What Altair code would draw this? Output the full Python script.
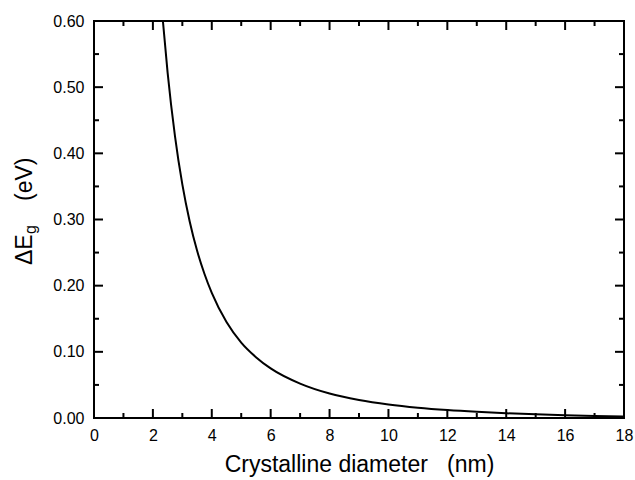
import altair as alt
import pandas as pd

# Curve
diameter = [2.34, 2.5, 2.75, 3.0, 3.25, 3.5, 3.75, 4.0, 4.5, 5.0, 5.5, 6.0, 7.0, 8.0,
            9.0, 10.0, 11.0, 12.0, 13.0, 14.0, 15.0, 16.0, 17.0, 18.0]
delta_eg = [0.600, 0.522, 0.426, 0.353, 0.297, 0.253, 0.218, 0.189, 0.145, 0.114, 0.092,
            0.075, 0.052, 0.037, 0.0273, 0.0205, 0.0156, 0.0120, 0.0093, 0.0072, 0.0055,
            0.0042, 0.0032, 0.0024]

x_major = [0, 2, 4, 6, 8, 10, 12, 14, 16, 18]
x_minor = [1, 3, 5, 7, 9, 11, 13, 15, 17]
y_major = [0.0, 0.1, 0.2, 0.3, 0.4, 0.5, 0.6]
y_minor = [0.05, 0.15, 0.25, 0.35, 0.45, 0.55]

x_title = "Crystalline diameter\u00a0\u00a0\u00a0(nm)"
y_title_main = "ΔE"
y_title_sub = "g"
y_title_unit = "(eV)"

W, H = 530, 397
FONT = "Liberation Sans"
MAJ, MIN = 9, 5

df = pd.DataFrame({"d": diameter, "e": delta_eg})

xs = alt.Scale(domain=[0, 18], nice=False)
ys = alt.Scale(domain=[0, 0.6], nice=False)

line = alt.Chart(df).mark_line(color="black", strokeWidth=2, interpolate="monotone", clip=True).encode(
    x=alt.X("d:Q", scale=xs,
            axis=alt.Axis(values=x_major, format="d", title=x_title, grid=False, domain=False,
                          ticks=False, labelPadding=9, labelFontSize=16, labelFont=FONT,
                          labelColor="black", labelFlush=False, titleFont=FONT, titleFontSize=23,
                          titleFontWeight="normal", titleColor="black", titlePadding=10)),
    y=alt.Y("e:Q", scale=ys,
            axis=alt.Axis(values=y_major, format=".2f", title=None, grid=False, domain=False,
                          ticks=False, labelPadding=10, labelFontSize=16, labelFont=FONT,
                          labelColor="black", labelFlush=False)),
)

def xticks(vals, length):
    d = pd.DataFrame({"t": vals})
    bottom = alt.Chart(d).mark_rule(color="black", strokeWidth=2).encode(
        x=alt.X("t:Q", scale=xs), y=alt.value(H), y2=alt.value(H - length))
    top = alt.Chart(d).mark_rule(color="black", strokeWidth=2).encode(
        x=alt.X("t:Q", scale=xs), y=alt.value(0), y2=alt.value(length))
    return [bottom, top]

def yticks(vals, length):
    d = pd.DataFrame({"t": vals})
    left = alt.Chart(d).mark_rule(color="black", strokeWidth=2).encode(
        y=alt.Y("t:Q", scale=ys), x=alt.value(0), x2=alt.value(length))
    right = alt.Chart(d).mark_rule(color="black", strokeWidth=2).encode(
        y=alt.Y("t:Q", scale=ys), x=alt.value(W), x2=alt.value(W - length))
    return [left, right]

ticks = xticks(x_major, MAJ) + xticks(x_minor, MIN) + yticks(y_major, MAJ) + yticks(y_minor, MIN)

def ylabel_part(text, x, y, size):
    return alt.Chart(pd.DataFrame({"s": [text]})).mark_text(
        angle=270, align="left", baseline="alphabetic", font=FONT, fontSize=size, color="black"
    ).encode(text="s:N", x=alt.value(x), y=alt.value(y))

ytitle = [
    ylabel_part(y_title_main, -62, 244, 23),
    ylabel_part(y_title_sub, -58, 213, 16),
    ylabel_part(y_title_unit, -62, 180, 23),
]

chart = alt.layer(line, *ticks, *ytitle).properties(
    width=W, height=H,
    background="white",
    autosize=alt.AutoSizeParams(type="none"),
    padding={"left": 94, "top": 21, "right": 11, "bottom": 62},
).configure_view(stroke="black", strokeWidth=2)

chart.save("out.html", embed_options={"renderer": "svg", "actions": False})
